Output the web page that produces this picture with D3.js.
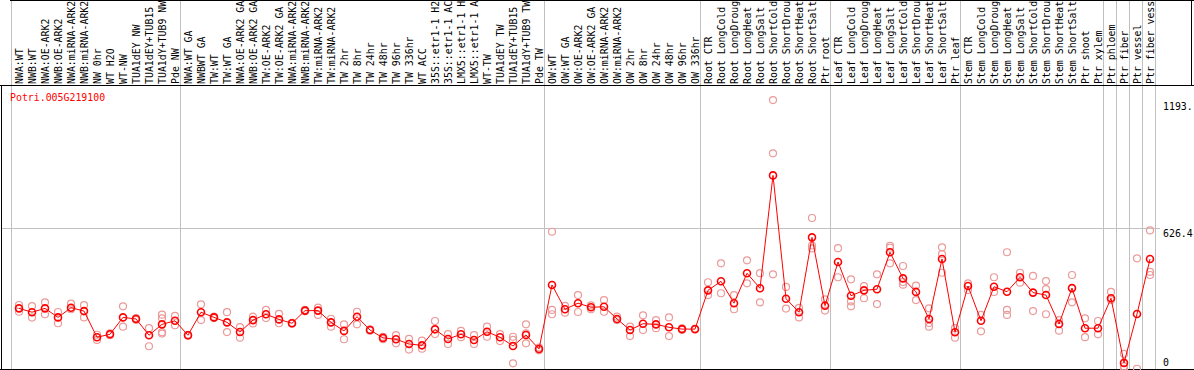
<!DOCTYPE html>
<html>
<head>
<meta charset="utf-8">
<script src="https://cdn.jsdelivr.net/npm/d3@7"></script>
<style>
  body { margin: 0; background: #fff; }
  svg { display: block; font-family: "DejaVu Sans Mono", monospace; font-size: 9.9px; }
</style>
</head>
<body>
<svg width="1194" height="370"></svg>
<script>
const geneId = "Potri.005G219100";

// sample names as far as the header shows them
const samples = [
  "NWA:WT", "NWB:WT", "NWA:OE-ARK2", "NWB:OE-ARK2", "NWA:miRNA-ARK2", "NWB:miRNA-ARK2",
  "NW 0hr", "WT H2O", "WT-NW", "TUA1dEY NW", "TUA1dEY+TUB15", "TUA1dY+TUB9 NW", "Pde NW",
  "NWA:WT GA", "NWBWT GA", "TW:WT", "TW:WT GA", "NWA:OE-ARK2 GA", "NWB:OE-ARK2 GA",
  "TW:OE-ARK2", "TW:OE-ARK2 GA", "NWA:miRNA-ARK2", "NWB:miRNA-ARK2", "TW:miRNA-ARK2",
  "TW:miRNA-ARK2", "TW 2hr", "TW 8hr", "TW 24hr", "TW 48hr", "TW 96hr", "TW 336hr",
  "WT ACC", "35S::etr1-1 H2", "35S::etr1-1 AC", "LMX5::etr1-1 H", "LMX5::etr1-1 A",
  "WT-TW", "TUA1dEY TW", "TUA1dEY+TUB15", "TUA1dY+TUB9 TW", "Pde TW",
  "OW:WT", "OW:WT GA", "OW:OE-ARK2", "OW:OE-ARK2 GA", "OW:miRNA-ARK2", "OW:miRNA-ARK2",
  "OW 2hr", "OW 8hr", "OW 24hr", "OW 48hr", "OW 96hr", "OW 336hr",
  "Root CTR", "Root LongCold", "Root LongDroug", "Root LongHeat", "Root LongSalt",
  "Root ShortCold", "Root ShortDrou", "Root ShortHeat", "Root ShortSalt", "Ptr root",
  "Leaf CTR", "Leaf LongCold", "Leaf LongDroug", "Leaf LongHeat", "Leaf LongSalt",
  "Leaf ShortCold", "Leaf ShortDrou", "Leaf ShortHeat", "Leaf ShortSalt", "Ptr leaf",
  "Stem CTR", "Stem LongCold", "Stem LongDroug", "Stem LongHeat", "Stem LongSalt",
  "Stem ShortCold", "Stem ShortDrou", "Stem ShortHeat", "Stem ShortSalt", "Ptr shoot",
  "Ptr xylem", "Ptr phloem", "Ptr fiber", "Ptr vessel", "Ptr fiber vess"
];

// mean expression per sample
const means = [
  269, 252, 269, 229, 272, 257, 141, 154, 229, 222, 150, 198, 214,
  150, 252, 229, 207, 164, 217, 243, 220, 203, 259, 259, 207, 169, 232, 173, 138, 132,
  111, 105, 176, 133, 154, 129, 165, 141, 102, 151, 89,
  373, 265, 292, 274, 276, 222, 173, 201, 198, 185, 177, 177,
  349, 389, 292, 425, 358, 859, 312, 252, 584, 281,
  475, 325, 349, 354, 518, 402, 342, 222, 488, 163,
  368, 214, 365, 343, 407, 339, 328, 200, 359, 181, 181,
  314, 27, 244, 488
];

// replicate values per sample
const replicates = [
  [284, 254], [279, 228], [296, 243], [253, 203], [290, 265], [283, 229],
  [152, 129], [158, 150], [278, 188], [226, 218], [181, 101], [241, 225, 163, 157], [236, 194],
  [152, 148], [287, 217], [232, 226], [252, 164], [186, 139], [232, 202], [262, 226],
  [245, 203], [205, 201], [262, 256], [272, 240], [223, 188], [198, 132], [254, 198],
  [176, 170], [143, 132], [150, 114], [134, 86], [126, 90], [213, 155], [155, 111],
  [169, 141], [150, 111], [188, 143], [155, 124], [143, 129, 25], [198, 158, 114], [95, 83],
  [609, 262, 243], [280, 250], [328, 253], [282, 265], [306, 254], [232, 217],
  [188, 146], [238, 173], [217, 181], [229, 146], [180, 174], [177],
  [385, 328], [469, 336], [328, 265], [482, 380], [425, 296], [1193, 957, 420],
  [364, 268], [271, 229], [670, 548, 535], [309, 259],
  [536, 407], [398, 300, 278], [368, 314], [420, 288], [546, 538, 469], [457, 386, 374],
  [370, 306], [269, 204, 188], [540, 510, 427], [181, 139],
  [380, 350], [240, 167], [407, 342], [518, 262, 240], [427, 383], [413, 257],
  [390, 354, 243], [217, 170], [417, 296], [225, 141], [213, 154],
  [342, 306], [67, 12, 1], [491, 1], [615, 431, 417]
];

// column index after which a divider is drawn
const groupBreaks = [0, 13, 41, 53, 63, 73, 84, 85, 86, 87, 88];
const yLabels = ["1193.", "626.4", "0"];
const yValues = [1193.5, 626.4, 0];

const svg = d3.select("svg"),
  width = +svg.attr("width"),
  height = +svg.attr("height"),
  headerBottom = 85;

const x = d3.scaleBand().domain(d3.range(samples.length)).range([11, 1155]);
const y = d3.scaleLinear().domain([0, 1193.5]).range([369, 100]);
const cx = i => x(i) + 8;
const edge = b => (b < samples.length ? x(b) : x.range()[1]) + 0.5;

// dividers
svg.append("g")
  .selectAll("line")
  .data(groupBreaks)
  .join("line")
  .attr("x1", edge).attr("x2", edge)
  .attr("y1", 0).attr("y2", height)
  .attr("stroke", "#c0c0c0");

svg.append("line")
  .attr("x1", 1).attr("x2", 1160)
  .attr("y1", Math.round(y(626.4)) + 0.5).attr("y2", Math.round(y(626.4)) + 0.5)
  .attr("stroke", "#c0c0c0");

// frame
const frame = svg.append("g").attr("stroke", "#000");
frame.append("line").attr("x1", 10).attr("x2", width).attr("y1", 0.5).attr("y2", 0.5);
frame.append("line").attr("x1", 0).attr("x2", width).attr("y1", headerBottom + 0.5).attr("y2", headerBottom + 0.5);
frame.append("line").attr("x1", 0).attr("x2", width).attr("y1", height - 0.5).attr("y2", height - 0.5);
frame.append("line").attr("x1", 1.5).attr("x2", 1.5).attr("y1", headerBottom).attr("y2", height);
frame.append("line").attr("x1", 1191.5).attr("x2", 1191.5).attr("y1", 0).attr("y2", headerBottom);

// sample labels
svg.append("g")
  .selectAll("text")
  .data(samples)
  .join("text")
  .attr("transform", (d, i) => `translate(${x(i) + 11.5},84) rotate(-90)`)
  .attr("fill", "#000")
  .text(d => d);

svg.append("text")
  .attr("x", 10).attr("y", 101)
  .attr("fill", "#f00")
  .text(geneId);

svg.append("g")
  .selectAll("text")
  .data(yValues)
  .join("text")
  .attr("x", 1163)
  .attr("y", d => Math.min(y(d) + 9.5, 366))
  .attr("fill", "#000")
  .text((d, i) => yLabels[i]);

// replicates
const reps = [];
replicates.forEach((r, i) => r.forEach(v => reps.push({ i, v })));
svg.append("g")
  .selectAll("circle")
  .data(reps)
  .join("circle")
  .attr("cx", d => cx(d.i))
  .attr("cy", d => y(d.v))
  .attr("r", 3.5)
  .attr("fill", "none")
  .attr("stroke", "#eb9a9a")
  .attr("stroke-width", 1.2);

const line = d3.line()
  .x((d, i) => cx(i))
  .y(d => y(d));

svg.append("path")
  .datum(means)
  .attr("fill", "none")
  .attr("stroke", "#f00")
  .attr("stroke-width", 1)
  .attr("d", line);

svg.append("g")
  .selectAll("circle")
  .data(means)
  .join("circle")
  .attr("cx", (d, i) => cx(i))
  .attr("cy", d => y(d))
  .attr("r", 3.5)
  .attr("fill", "none")
  .attr("stroke", "#f00")
  .attr("stroke-width", 1.6);
</script>
</body>
</html>
